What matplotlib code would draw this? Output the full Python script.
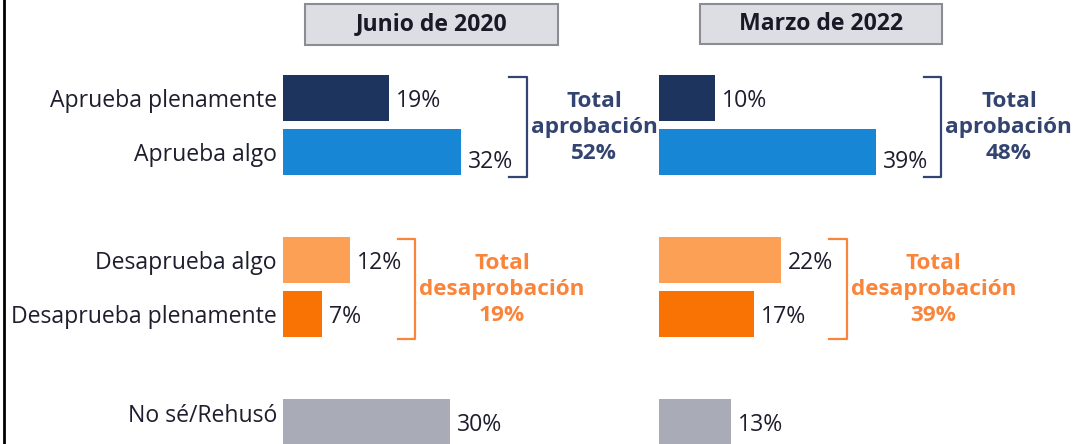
import matplotlib.pyplot as plt
from matplotlib.patches import Rectangle
from matplotlib.lines import Line2D

plt.rcParams['font.family'] = ['Open Sans', 'DejaVu Sans']

# Datos
categorias = ["Aprueba plenamente", "Aprueba algo", "Desaprueba algo",
              "Desaprueba plenamente", "No sé/Rehusó"]
junio_2020 = [19, 32, 12, 7, 30]
marzo_2022 = [10, 39, 22, 17, 13]
periodos = ["Junio de 2020", "Marzo de 2022"]
total_aprobacion = [52, 48]
total_desaprobacion = [19, 39]

posiciones = [0, 1, 3, 4, 6]
colores = ["#1d355e", "#1787d5", "#fca055", "#f97304", "#a9abb6"]
c_texto = "#1e1e2e"
c_aprob = "#334470"
c_desap = "#f9843a"

W, H = 1074, 444
escala = 5.56      # px por punto porcentual
y0, paso = 98, 54  # centro de la primera barra y separacion (px)
fs = 16.6

fig = plt.figure(figsize=(W / 100, H / 100), dpi=100)


def corchete(ax, x, p_ini, p_fin, color):
    ax.plot([x - 3.2, x, x, x - 3.2],
            [p_ini - 0.39, p_ini - 0.39, p_fin + 0.46, p_fin + 0.46],
            color=color, lw=1.6, clip_on=False, solid_joinstyle='round')


def panel(x_px, valores, titulo, caja, t_aprob, t_desap, etiquetas):
    ax = fig.add_axes([x_px / W, 0, 40 * escala / W, 1])
    ax.set_xlim(0, 40)
    ax.set_ylim((H - y0) / paso, -y0 / paso)
    ax.axis('off')
    ax.barh(posiciones, valores, height=46 / paso, color=colores)

    for i, (p, v) in enumerate(zip(posiciones, valores)):
        dy = -10 if i == 1 else -3
        ax.annotate(f"{v}%", (v, p), xytext=(7, dy), textcoords='offset pixels',
                    ha='left', va='center', fontsize=fs, color=c_texto)
        if etiquetas:
            dy_e = 6 if i == 4 else -3
            ax.annotate(categorias[i], (0, p), xytext=(-6, dy_e),
                        textcoords='offset pixels', ha='right', va='center',
                        fontsize=fs, color=c_texto)

    # totales
    for (a, b), total, nombre, color in [((0, 1), t_aprob, "aprobación", c_aprob),
                                         ((3, 4), t_desap, "desaprobación", c_desap)]:
        i, j = posiciones.index(a), posiciones.index(b)
        x = max(valores[i], valores[j]) + 11.8
        corchete(ax, x, a, b, color)
        ax.annotate(f"Total\n{nombre}\n{total}%", (x, (a + b) / 2 + 0.04),
                    xytext=(4, 0), textcoords='offset pixels', ha='left',
                    va='center', multialignment='center', fontsize=16.2,
                    fontweight='bold', color=color, linespacing=1.32,
                    annotation_clip=False)

    # cabecera
    x1, y1, x2, y2 = caja
    fig.add_artist(Rectangle((x1 / W, 1 - y2 / H), (x2 - x1) / W, (y2 - y1) / H,
                             transform=fig.transFigure, facecolor="#dddde4",
                             edgecolor="#8c8c94", lw=1.5))
    fig.text((x1 + x2) / 2 / W, 1 - (y1 + y2) / 2 / H, titulo, ha='center',
             va='center', fontsize=16.6, fontweight='bold', color="#1a1a26")


panel(283, junio_2020, periodos[0], (305, 4, 558, 45),
      total_aprobacion[0], total_desaprobacion[0], True)
panel(659, marzo_2022, periodos[1], (700, 4, 942, 44),
      total_aprobacion[1], total_desaprobacion[1], False)

# borde izquierdo
fig.add_artist(Line2D([4 / W, 4 / W], [0, 1], transform=fig.transFigure,
                      color="black", lw=2))

fig.savefig("out.png", dpi=100)
